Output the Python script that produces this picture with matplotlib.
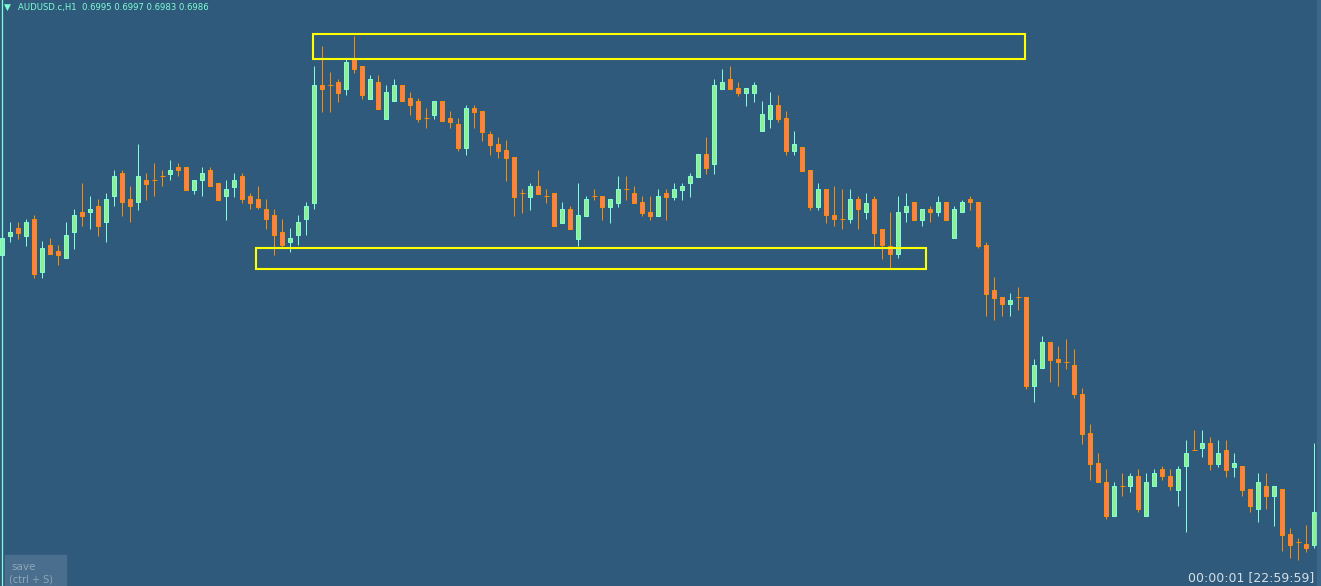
import matplotlib
matplotlib.use("Agg")
from matplotlib import pyplot as plt
from matplotlib.patches import Rectangle
import numpy as np

# AUDUSD.c H1, prices in points (1e-5)
opens = [
    70225, 70321, 70358, 70321, 70405, 70141, 70275, 70245, 70208, 70338,
    70438, 70438, 70468, 70388, 70518, 70635, 70505, 70488, 70598, 70598,
    70618, 70631, 70665, 70665, 70551, 70598, 70648, 70585, 70518, 70566,
    70620, 70520, 70503, 70453, 70423, 70340, 70290, 70323, 70403, 70486,
    71073, 71073, 71090, 71056, 71203, 71170, 71006, 71090, 70906, 70993,
    71073, 71010, 70993, 70910, 70926, 70993, 70908, 70878, 70761, 70958,
    70945, 70828, 70778, 70748, 70715, 70533, 70515, 70568, 70518, 70535,
    70385, 70455, 70305, 70421, 70518, 70518, 70465, 70485, 70555, 70535,
    70488, 70438, 70421, 70535, 70516, 70550, 70583, 70616, 70730, 70680,
    71056, 71103, 71060, 71036, 71036, 70843, 70906, 70973, 70910, 70746,
    70763, 70650, 70466, 70553, 70423, 70403, 70403, 70503, 70440, 70503,
    70356, 70271, 70228, 70438, 70488, 70401, 70455, 70438, 70488, 70308,
    70438, 70505, 70488, 70275, 70048, 70015, 69981, 70015, 70015, 69571,
    69658, 69788, 69705, 69688, 69675, 69528, 69335, 69185, 69088, 68921,
    69068, 69068, 69118, 68921, 69068, 69155, 69118, 69051, 69168, 69248,
    69261, 69285, 69181, 69248, 69165, 69168, 69055, 68955, 69068, 69021,
    69055, 68828, 68791, 68778, 68775]
highs = [
    70375, 70388, 70388, 70405, 70425, 70295, 70311, 70275, 70388, 70455,
    70585, 70518, 70505, 70535, 70648, 70648, 70568, 70778, 70635, 70685,
    70648, 70698, 70685, 70665, 70598, 70665, 70665, 70585, 70598, 70633,
    70633, 70533, 70570, 70503, 70453, 70403, 70360, 70423, 70490, 71170,
    71270, 71140, 71103, 71203, 71320, 71170, 71123, 71123, 71073, 71103,
    71073, 71040, 71010, 70960, 70993, 70993, 70945, 70908, 70975, 70975,
    70945, 70845, 70815, 70798, 70715, 70555, 70585, 70648, 70555, 70535,
    70488, 70471, 70585, 70521, 70555, 70518, 70505, 70618, 70618, 70568,
    70521, 70521, 70555, 70555, 70586, 70586, 70636, 70730, 70816, 71106,
    71156, 71170, 71090, 71060, 71090, 70996, 71040, 71023, 70943, 70843,
    70763, 70650, 70583, 70553, 70570, 70553, 70553, 70520, 70536, 70520,
    70356, 70438, 70518, 70535, 70488, 70455, 70468, 70518, 70488, 70468,
    70501, 70518, 70488, 70291, 70115, 70015, 70035, 70065, 70015, 69705,
    69818, 69788, 69768, 69805, 69755, 69558, 69378, 69235, 69155, 69088,
    69135, 69135, 69155, 69135, 69155, 69168, 69155, 69168, 69298, 69348,
    69348, 69315, 69298, 69298, 69235, 69168, 69055, 69135, 69135, 69068,
    69055, 68861, 68811, 68875, 69285]
lows = [
    70208, 70291, 70305, 70271, 70111, 70111, 70228, 70175, 70208, 70255,
    70371, 70355, 70321, 70291, 70468, 70421, 70388, 70451, 70501, 70518,
    70568, 70598, 70618, 70551, 70531, 70518, 70568, 70501, 70401, 70516,
    70486, 70453, 70453, 70356, 70226, 70266, 70240, 70273, 70323, 70453,
    70940, 70940, 70990, 71023, 71136, 71006, 71006, 70956, 70906, 70993,
    70993, 70926, 70890, 70860, 70906, 70893, 70861, 70745, 70725, 70861,
    70795, 70725, 70711, 70595, 70421, 70435, 70451, 70531, 70485, 70371,
    70385, 70355, 70271, 70421, 70501, 70401, 70385, 70465, 70501, 70485,
    70421, 70401, 70421, 70400, 70500, 70500, 70516, 70616, 70630, 70630,
    71056, 71056, 71020, 70970, 70990, 70843, 70860, 70890, 70726, 70726,
    70646, 70450, 70450, 70386, 70370, 70356, 70386, 70356, 70403, 70270,
    70206, 70161, 70208, 70388, 70401, 70371, 70388, 70421, 70401, 70308,
    70438, 70451, 70258, 69918, 69898, 69918, 69918, 69948, 69555, 69491,
    69658, 69591, 69571, 69655, 69508, 69281, 69101, 69088, 68905, 68921,
    69021, 69038, 68938, 68921, 69068, 69101, 69051, 68971, 68841, 69248,
    69215, 69151, 69165, 69115, 69115, 69021, 68938, 68891, 68955, 68871,
    68745, 68711, 68698, 68741, 68761]
closes = [
    70308, 70338, 70336, 70388, 70128, 70258, 70228, 70225, 70325, 70425,
    70421, 70455, 70371, 70505, 70618, 70488, 70468, 70618, 70581, 70598,
    70618, 70648, 70648, 70551, 70598, 70635, 70568, 70501, 70555, 70600,
    70503, 70486, 70466, 70403, 70323, 70273, 70310, 70390, 70470, 71073,
    71056, 71073, 71036, 71190, 71153, 71023, 71103, 70956, 71040, 71073,
    70993, 70973, 70906, 70910, 70993, 70893, 70891, 70761, 70958, 70941,
    70841, 70775, 70745, 70711, 70515, 70533, 70568, 70531, 70518, 70371,
    70455, 70355, 70425, 70505, 70518, 70465, 70505, 70555, 70555, 70485,
    70435, 70421, 70518, 70515, 70553, 70570, 70620, 70730, 70660, 71073,
    71090, 71056, 71036, 71060, 71073, 70930, 70973, 70906, 70746, 70780,
    70646, 70466, 70553, 70423, 70403, 70403, 70503, 70453, 70486, 70336,
    70273, 70228, 70438, 70468, 70401, 70455, 70438, 70488, 70401, 70455,
    70488, 70488, 70271, 70031, 70011, 69981, 69998, 70015, 69571, 69675,
    69788, 69701, 69688, 69688, 69528, 69331, 69181, 69088, 68921, 69068,
    69068, 69118, 68955, 69088, 69135, 69118, 69068, 69155, 69235, 69248,
    69285, 69181, 69235, 69151, 69185, 69051, 68971, 69088, 69021, 69068,
    68825, 68775, 68791, 68761, 68938]

# zones drawn on the chart: (first bar, last bar, low price, high price)
resistance_zone = (38.8, 127.8, 0.71205, 0.71330)
support_zone = (31.7, 115.5, 0.70157, 0.70262)

title_text = "AUDUSD.c,H1  0.6995 0.6997 0.6983 0.6986"
clock_text = "00:00:01 [22:59:59]"

BG = '#2f5a7b'
BULL_FILL, BULL_LINE = '#90ee90', '#7fffd4'
BEAR_FILL, BEAR_LINE = '#ff7f50', '#ff8c00'

o = np.array(opens) / 1e5
h = np.array(highs) / 1e5
l = np.array(lows) / 1e5
c = np.array(closes) / 1e5
x = np.arange(len(o))
bull = c > o

fig = plt.figure(figsize=(13.21, 5.86), dpi=100)
fig.patch.set_facecolor(BG)
ax = fig.add_axes([0, 0, 1, 1])
ax.set_facecolor(BG)

px = 1 / 8.0  # one pixel in bar units
lw = 0.72

# wicks
ax.vlines(x, l, h, colors=np.where(bull, BULL_LINE, BEAR_LINE), linewidth=lw, zorder=2)

# bodies
body = o != c
ax.bar(x[body], np.abs(c - o)[body], bottom=np.minimum(o, c)[body], width=0.52,
       color=np.where(bull, BULL_FILL, BEAR_FILL)[body],
       edgecolor=np.where(bull, BULL_LINE, BEAR_LINE)[body], linewidth=lw, zorder=3)
# doji
ax.hlines(o[~body], x[~body] - 0.31, x[~body] + 0.31, colors=BEAR_LINE, linewidth=lw, zorder=3)

# zones
for x0, x1, y0, y1 in [resistance_zone, support_zone]:
    ax.add_patch(Rectangle((x0, y0), x1 - x0, y1 - y0, fill=False,
                           edgecolor='#ffff00', linewidth=1.5, zorder=4))

ax.set_xlim(-2.3 * px, (1321 - 2.3) * px)
ax.set_ylim(0.68570, 0.71500)
ax.axis('off')

W, H = 1321.0, 586.0
# left border line and right edge
fig.add_artist(plt.Line2D([1.5 / W, 1.5 / W], [0, 1], color='#7fffd4', linewidth=0.9))
fig.add_artist(Rectangle((1317 / W, 0), 4 / W, 1, color='#3d6788', transform=fig.transFigure))

fig.text(4 / W, 1 - 7.5 / H, u'\u25bc', color='#7fffd4', fontsize=6.5, va='center', ha='left')
fig.text(18 / W, 1 - 7.5 / H, title_text, color='#7fffd4', fontsize=6.1, va='center', ha='left')

fig.text(1314 / W, 1 - 578 / H, clock_text, color='#d6dfe6', fontsize=9, va='center', ha='right')

# save button
fig.add_artist(Rectangle((5 / W, 0), 61 / W, 31 / H, color='#4a6f8e', transform=fig.transFigure))
fig.text(11 / W, 1 - 567 / H, 'save', color='#8ea6b8', fontsize=7.5, va='center', ha='left')
fig.text(9 / W, 1 - 579 / H, '(ctrl + S)', color='#8ea6b8', fontsize=7, va='center', ha='left')

fig.savefig('out.png', dpi=100, facecolor=BG)
